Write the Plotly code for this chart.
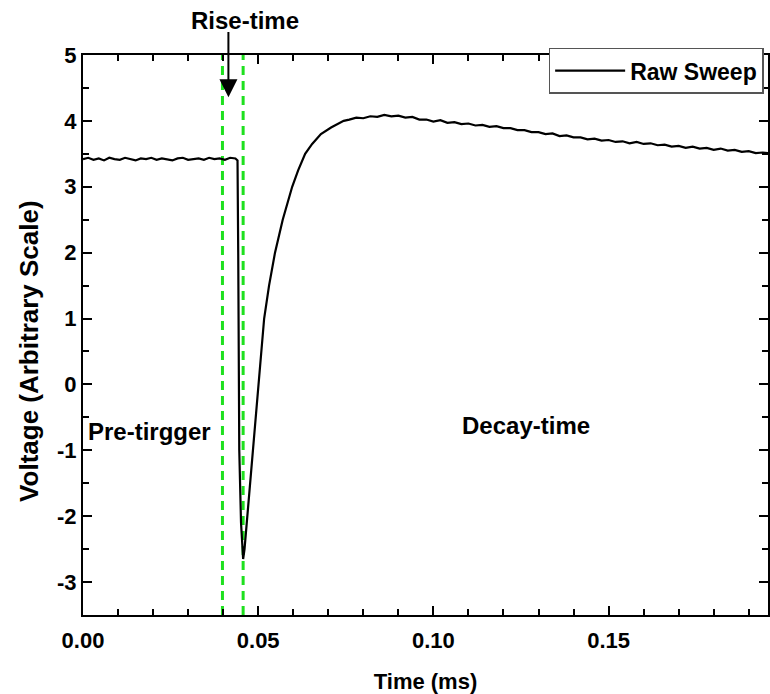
import plotly.graph_objects as go

# ---- data ----
pre_time = [0.0000, 0.0015, 0.0030, 0.0045, 0.0060, 0.0075, 0.0090, 0.0105, 0.0120, 0.0135,
            0.0150, 0.0165, 0.0180, 0.0195, 0.0210, 0.0225, 0.0240, 0.0255, 0.0270, 0.0285,
            0.0300, 0.0315, 0.0330, 0.0345, 0.0360, 0.0375, 0.0390, 0.0405, 0.0420, 0.0435]
pre_volt = [3.42, 3.44, 3.41, 3.43, 3.40, 3.44, 3.42, 3.41, 3.44, 3.42,
            3.40, 3.43, 3.42, 3.44, 3.41, 3.43, 3.42, 3.40, 3.43, 3.44,
            3.41, 3.42, 3.43, 3.41, 3.44, 3.42, 3.43, 3.41, 3.44, 3.43]

pulse_time = [0.0441, 0.0443, 0.0446, 0.0451, 0.0455, 0.0457, 0.0461, 0.0465, 0.0469, 0.0476,
              0.0483, 0.0491, 0.0499, 0.0508, 0.0517, 0.0531, 0.0548, 0.0570, 0.0597, 0.0614,
              0.0634, 0.0654, 0.0679, 0.0708, 0.0744]
pulse_volt = [3.40, 2.00, -1.00, -2.10, -2.55, -2.65, -2.50, -2.25, -2.00, -1.50,
              -1.00, -0.50, 0.00, 0.50, 1.00, 1.50, 2.00, 2.50, 3.00, 3.25,
              3.50, 3.65, 3.80, 3.90, 4.00]

tail_time = [0.076, 0.078, 0.080, 0.082, 0.084, 0.086, 0.088, 0.090, 0.092, 0.094,
             0.096, 0.098, 0.100, 0.102, 0.104, 0.106, 0.108, 0.110, 0.112, 0.114,
             0.116, 0.118, 0.120, 0.122, 0.124, 0.126, 0.128, 0.130, 0.132, 0.134,
             0.136, 0.138, 0.140, 0.142, 0.144, 0.146, 0.148, 0.150, 0.152, 0.154,
             0.156, 0.158, 0.160, 0.162, 0.164, 0.166, 0.168, 0.170, 0.172, 0.174,
             0.176, 0.178, 0.180, 0.182, 0.184, 0.186, 0.188, 0.190, 0.192, 0.194, 0.1955]
tail_volt = [4.02, 4.05, 4.04, 4.07, 4.06, 4.09, 4.07, 4.08, 4.05, 4.06,
             4.02, 4.02, 3.99, 4.01, 3.97, 3.98, 3.95, 3.96, 3.93, 3.94,
             3.91, 3.92, 3.89, 3.89, 3.86, 3.86, 3.83, 3.83, 3.80, 3.81,
             3.77, 3.78, 3.75, 3.75, 3.72, 3.73, 3.70, 3.71, 3.68, 3.69,
             3.66, 3.68, 3.65, 3.66, 3.63, 3.64, 3.61, 3.62, 3.59, 3.61,
             3.58, 3.59, 3.56, 3.58, 3.55, 3.56, 3.53, 3.54, 3.51, 3.52, 3.51]

time_ms = pre_time + pulse_time + tail_time
voltage = pre_volt + pulse_volt + tail_volt

marker_times = [0.0398, 0.0457]          # green dashed rise-time markers
y_range = [-3.5, 5.0]
x_range = [0.0, 0.1955]
y_tickvals = [-3, -2, -1, 0, 1, 2, 3, 4, 5]
y_ticktext = ["-3", "-2", "-1", "0", "1", "2", "3", "4", "5"]
x_tickvals = [0.00, 0.05, 0.10, 0.15]
x_ticktext = ["0.00", "0.05", "0.10", "0.15"]

FONT = "Liberation Sans, Arial, sans-serif"

fig = go.Figure()

for t in marker_times:
    fig.add_trace(go.Scatter(
        x=[t, t], y=y_range, mode="lines",
        line=dict(color="#1EE01E", width=3, dash="9px,6px"),
        showlegend=False, hoverinfo="skip"))

fig.add_trace(go.Scatter(
    x=time_ms, y=voltage, mode="lines", name="Raw Sweep",
    line=dict(color="black", width=2.2)))

axis_common = dict(
    showline=True, linecolor="black", linewidth=2, mirror="ticks",
    ticks="inside", ticklen=9, tickwidth=2, tickcolor="black",
    showgrid=False, zeroline=False,
    tickfont=dict(family=FONT, size=22, color="black", weight="bold"),
)

fig.update_layout(
    width=770, height=694,
    margin=dict(l=83, r=0, t=55, b=79),
    plot_bgcolor="white", paper_bgcolor="white",
    font=dict(family=FONT, color="black"),
    xaxis=dict(
        range=x_range, tickvals=x_tickvals, ticktext=x_ticktext,
        ticklabelstandoff=5,
        minor=dict(dtick=0.01, tick0=0, ticks="inside", ticklen=6, tickwidth=1.5, tickcolor="black"),
        title=dict(text="Time (ms)", font=dict(family=FONT, size=22, color="black", weight="bold"), standoff=21),
        **axis_common),
    yaxis=dict(
        range=y_range, tickvals=y_tickvals, ticktext=y_ticktext,
        minor=dict(dtick=0.5, tick0=0, ticks="inside", ticklen=6, tickwidth=1.5, tickcolor="black"),
        **axis_common),
    showlegend=True,
    legend=dict(
        x=(550 - 83) / 687, y=1.013, xanchor="left", yanchor="top",
        bgcolor="white", bordercolor="#555555", borderwidth=1.5,
        font=dict(family=FONT, size=23, color="black", weight="bold"),
        itemwidth=70),
)

ann_font = dict(family=FONT, size=24, color="black", weight="bold")
fig.add_annotation(text="Voltage (Arbitrary Scale)", textangle=-90,
                   xref="paper", yref="paper", x=-0.079, y=(615 - 351) / 560,
                   xanchor="center", yanchor="middle", showarrow=False,
                   font=dict(family=FONT, size=26, color="black", weight="bold"))
fig.add_annotation(text="Rise-time", xref="x", yref="paper", x=0.0463, y=(615 - 20) / 560,
                   xanchor="center", yanchor="middle", showarrow=False, font=ann_font)
fig.add_annotation(text="", x=0.0415, y=4.36, ax=0.0415, ay=5.37,
                   xref="x", yref="y", axref="x", ayref="y",
                   showarrow=True, arrowhead=2, arrowsize=1.8, arrowwidth=2, arrowcolor="black")
fig.add_annotation(text="Pre-tirgger", x=0.019, y=-0.72, showarrow=False, font=ann_font)
fig.add_annotation(text="Decay-time", x=0.1264, y=-0.62, showarrow=False, font=ann_font)

fig.write_html("out.html")
